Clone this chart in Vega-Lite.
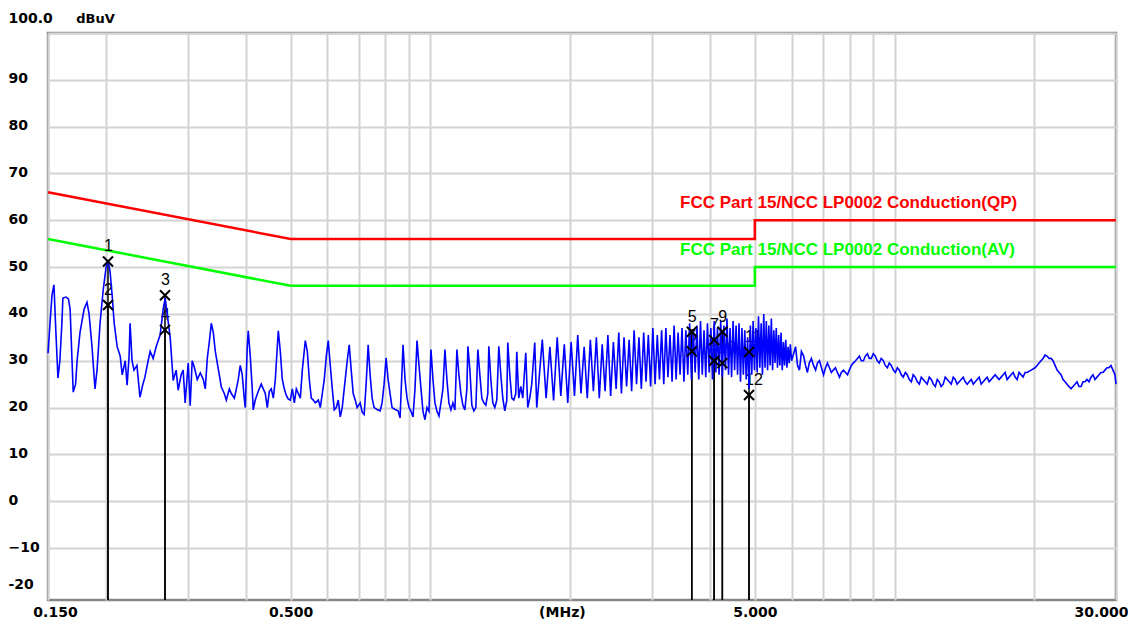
{
  "$schema": "https://vega.github.io/schema/vega-lite/v6.json",
  "width": 1068,
  "height": 567,
  "autosize": {"type": "none"},
  "padding": {"left": 48, "top": 33, "right": 12, "bottom": 28},
  "background": "white",
  "config": {
    "view": {"stroke": "#868686", "strokeWidth": 2.5},
    "axis": {
      "labelFont": "DejaVu Sans",
      "labelFontWeight": "bold",
      "labelFontSize": 14,
      "labelColor": "#000000",
      "grid": true,
      "gridColor": "#d3d3d3",
      "gridWidth": 2,
      "ticks": false,
      "tickSize": 0,
      "domain": false,
      "labelOverlap": false,
      "labelFlush": false,
      "labelBound": false
    }
  },
  "datasets": {
    "trace": [
      {"f":0.150,"v":31.6},{"f":0.1515,"v":38},{"f":0.153,"v":44},{"f":0.1545,"v":46.2},{"f":0.156,"v":36},{"f":0.1576,"v":26.3},{"f":0.1591,"v":30},{"f":0.1607,"v":38},{"f":0.1615,"v":43.4},{"f":0.164,"v":43.6},{"f":0.166,"v":43.2},{"f":0.1674,"v":41},{"f":0.169,"v":30},{"f":0.170,"v":23.3},{"f":0.172,"v":25},{"f":0.1733,"v":30},{"f":0.1758,"v":36},{"f":0.1794,"v":41},{"f":0.182,"v":42.5},{"f":0.1839,"v":40},{"f":0.1866,"v":33},{"f":0.1894,"v":24},{"f":0.1913,"v":28},{"f":0.1942,"v":38},{"f":0.1972,"v":45},{"f":0.2001,"v":50},{"f":0.2021,"v":51.5},{"f":0.2041,"v":49},{"f":0.2062,"v":44},{"f":0.2083,"v":38},{"f":0.2114,"v":33},{"f":0.2146,"v":31},{"f":0.2168,"v":27},{"f":0.22,"v":30},{"f":0.2221,"v":24.8},{"f":0.2243,"v":31},{"f":0.2254,"v":38},{"f":0.2276,"v":30},{"f":0.2298,"v":28},{"f":0.2332,"v":29},{"f":0.2367,"v":22.2},{"f":0.2402,"v":25},{"f":0.2426,"v":26.5},{"f":0.2465,"v":30},{"f":0.249,"v":32},{"f":0.2527,"v":30.5},{"f":0.2565,"v":33},{"f":0.2616,"v":35.5},{"f":0.2656,"v":41},{"f":0.2683,"v":43.4},{"f":0.2709,"v":40},{"f":0.275,"v":35},{"f":0.2791,"v":25.8},{"f":0.2833,"v":28},{"f":0.2861,"v":23.7},{"f":0.2904,"v":27},{"f":0.2933,"v":28},{"f":0.2962,"v":21},{"f":0.3007,"v":29.5},{"f":0.3037,"v":20.4},{"f":0.3067,"v":30},{"f":0.3098,"v":28.7},{"f":0.3145,"v":26},{"f":0.3193,"v":27.4},{"f":0.3241,"v":26},{"f":0.3273,"v":24},{"f":0.3306,"v":30.5},{"f":0.3339,"v":34},{"f":0.3372,"v":38},{"f":0.3406,"v":36},{"f":0.344,"v":32},{"f":0.3474,"v":29.5},{"f":0.3509,"v":27},{"f":0.3544,"v":24.4},{"f":0.3597,"v":23},{"f":0.3633,"v":21.6},{"f":0.3688,"v":24},{"f":0.3725,"v":23},{"f":0.3781,"v":22},{"f":0.3819,"v":24},{"f":0.3855,"v":26},{"f":0.3893,"v":29},{"f":0.3932,"v":27},{"f":0.3971,"v":22},{"f":0.3991,"v":20},{"f":0.4031,"v":33},{"f":0.4051,"v":36.4},{"f":0.4091,"v":31},{"f":0.4132,"v":24},{"f":0.4152,"v":19.5},{"f":0.4194,"v":21.6},{"f":0.4257,"v":23.5},{"f":0.4321,"v":25},{"f":0.4364,"v":24},{"f":0.4408,"v":23},{"f":0.4452,"v":20},{"f":0.4496,"v":23.4},{"f":0.4541,"v":24},{"f":0.4587,"v":22},{"f":0.4633,"v":26},{"f":0.4679,"v":33},{"f":0.4702,"v":36.4},{"f":0.4749,"v":32},{"f":0.4796,"v":26},{"f":0.4844,"v":24},{"f":0.4893,"v":22.6},{"f":0.4942,"v":21.8},{"f":0.4991,"v":21.6},{"f":0.5041,"v":24},{"f":0.5091,"v":21},{"f":0.5142,"v":24},{"f":0.5193,"v":23},{"f":0.5245,"v":22},{"f":0.5297,"v":28},{"f":0.5376,"v":34.3},{"f":0.543,"v":32},{"f":0.5484,"v":26},{"f":0.5538,"v":22},{"f":0.5593,"v":21.6},{"f":0.5649,"v":21},{"f":0.5734,"v":21.6},{"f":0.5791,"v":20},{"f":0.5849,"v":23},{"f":0.5907,"v":26},{"f":0.5966,"v":31},{"f":0.6025,"v":34.3},{"f":0.6085,"v":29},{"f":0.6146,"v":24},{"f":0.6207,"v":19.5},{"f":0.6269,"v":20},{"f":0.6331,"v":21.6},{"f":0.6394,"v":18},{"f":0.6457,"v":20},{"f":0.6521,"v":24},{"f":0.6619,"v":30},{"f":0.6685,"v":33.4},{"f":0.6751,"v":28},{"f":0.6818,"v":23},{"f":0.6886,"v":21.6},{"f":0.6954,"v":20},{"f":0.7058,"v":21},{"f":0.7128,"v":19},{"f":0.7199,"v":18.5},{"f":0.727,"v":25},{"f":0.7343,"v":33.4},{"f":0.7415,"v":27},{"f":0.7489,"v":22},{"f":0.7564,"v":20},{"f":0.7677,"v":19.6},{"f":0.7792,"v":19.3},{"f":0.7869,"v":21},{"f":0.7947,"v":25},{"f":0.8026,"v":30.6},{"f":0.8106,"v":26},{"f":0.8186,"v":23},{"f":0.8268,"v":20},{"f":0.8392,"v":19.6},{"f":0.8517,"v":19.3},{"f":0.8602,"v":17.8},{"f":0.8687,"v":28},{"f":0.873,"v":33.4},{"f":0.8817,"v":26},{"f":0.8905,"v":22},{"f":0.8993,"v":20},{"f":0.9083,"v":19.2},{"f":0.9173,"v":18},{"f":0.9264,"v":24},{"f":0.9357,"v":34.3},{"f":0.945,"v":29},{"f":0.9544,"v":24},{"f":0.9638,"v":19.2},{"f":0.9734,"v":17.4},{"f":0.9831,"v":20},{"f":0.9929,"v":19.2},{"f":1.0028,"v":32.4},{"f":1.0127,"v":26},{"f":1.0228,"v":21},{"f":1.033,"v":19.2},{"f":1.0433,"v":18.2},{"f":1.0536,"v":21},{"f":1.0641,"v":24},{"f":1.0747,"v":32.4},{"f":1.0854,"v":26},{"f":1.0962,"v":21},{"f":1.1071,"v":19.5},{"f":1.1181,"v":21},{"f":1.1292,"v":19.5},{"f":1.1405,"v":32.4},{"f":1.1518,"v":27},{"f":1.1633,"v":23},{"f":1.1748,"v":20.5},{"f":1.1865,"v":19.5},{"f":1.1984,"v":24},{"f":1.2043,"v":33.1},{"f":1.2163,"v":28},{"f":1.2284,"v":20.5},{"f":1.2406,"v":19.3},{"f":1.2529,"v":20},{"f":1.2654,"v":32.4},{"f":1.278,"v":27},{"f":1.2907,"v":22},{"f":1.3035,"v":21},{"f":1.3165,"v":20.5},{"f":1.3296,"v":23},{"f":1.3362,"v":33.1},{"f":1.3495,"v":26},{"f":1.3629,"v":21},{"f":1.3765,"v":20},{"f":1.3902,"v":21.6},{"f":1.404,"v":33.1},{"f":1.418,"v":27},{"f":1.4321,"v":22},{"f":1.4463,"v":19.3},{"f":1.4607,"v":21.6},{"f":1.468,"v":33.9},{"f":1.4826,"v":27},{"f":1.4973,"v":22},{"f":1.5122,"v":21.6},{"f":1.5273,"v":23},{"f":1.5349,"v":31.9},{"f":1.5501,"v":22},{"f":1.5656,"v":24.5},{"f":1.5811,"v":22},{"f":1.6049,"v":31.7},{"f":1.6208,"v":20},{"f":1.6369,"v":22},{"f":1.6532,"v":25},{"f":1.678,"v":33.9},{"f":1.6947,"v":20},
      {"f":1.742,"v":34.5},{"f":1.7755,"v":22},{"f":1.809,"v":33},{"f":1.8425,"v":21.5},{"f":1.876,"v":35},{"f":1.9095,"v":22.5},{"f":1.943,"v":33.5},{"f":1.9765,"v":21},{"f":2.010,"v":34},{"f":2.0435,"v":22.5},{"f":2.077,"v":35.5},{"f":2.1105,"v":23},{"f":2.144,"v":33},{"f":2.1775,"v":22},{"f":2.211,"v":34.5},{"f":2.2445,"v":23.5},{"f":2.278,"v":35},{"f":2.3115,"v":22},{"f":2.345,"v":33.5},{"f":2.3785,"v":23.5},{"f":2.412,"v":35.5},{"f":2.4455,"v":22.5},{"f":2.479,"v":34},{"f":2.5125,"v":24},{"f":2.546,"v":36},{"f":2.5795,"v":23},{"f":2.613,"v":35},{"f":2.6465,"v":24.5},{"f":2.680,"v":34.5},{"f":2.7135,"v":23.5},{"f":2.747,"v":36.5},{"f":2.7805,"v":25},{"f":2.814,"v":35},{"f":2.8475,"v":24},{"f":2.881,"v":36},{"f":2.9145,"v":25.5},{"f":2.948,"v":35.5},{"f":2.9815,"v":24.5},{"f":3.015,"v":37},{"f":3.0485,"v":25},{"f":3.082,"v":35.5},{"f":3.1155,"v":26},{"f":3.149,"v":36.5},{"f":3.1825,"v":25},{"f":3.216,"v":37},{"f":3.2495,"v":26.5},{"f":3.283,"v":35.5},{"f":3.3165,"v":25.5},{"f":3.350,"v":37.5},{"f":3.3835,"v":26},{"f":3.417,"v":36},{"f":3.4505,"v":27},{"f":3.484,"v":37},{"f":3.5175,"v":25.5},{"f":3.551,"v":36.5},{"f":3.5845,"v":27},{"f":3.618,"v":38},{"f":3.6515,"v":26},{"f":3.685,"v":36.5},{"f":3.7185,"v":27.5},{"f":3.752,"v":37.5},{"f":3.7855,"v":26},{"f":3.819,"v":38.5},{"f":3.8525,"v":27},{"f":3.886,"v":36.5},{"f":3.9195,"v":26.5},{"f":3.953,"v":38},{"f":3.9865,"v":27.5},{"f":4.020,"v":37},{"f":4.0535,"v":26},{"f":4.087,"v":38.5},{"f":4.1205,"v":27.5},{"f":4.154,"v":37},{"f":4.1875,"v":27},{"f":4.221,"v":38.5},{"f":4.2545,"v":26.5},{"f":4.288,"v":37.5},{"f":4.3215,"v":28},{"f":4.355,"v":39},{"f":4.3885,"v":27},{"f":4.422,"v":37},{"f":4.4555,"v":26.5},{"f":4.489,"v":38.5},{"f":4.5225,"v":28},{"f":4.556,"v":37.5},{"f":4.5895,"v":27},{"f":4.623,"v":38},{"f":4.6565,"v":25.5},{"f":4.690,"v":37},{"f":4.7235,"v":27},{"f":4.757,"v":36.5},{"f":4.7905,"v":26},{"f":4.824,"v":35},{"f":4.8575,"v":24},{"f":4.891,"v":37.5},{"f":4.9245,"v":27},{"f":4.958,"v":38.5},{"f":4.9915,"v":28},{"f":5.025,"v":37},{"f":5.0585,"v":27.5},{"f":5.092,"v":39.5},{"f":5.1255,"v":28.5},{"f":5.159,"v":38},{"f":5.1925,"v":27},{"f":5.226,"v":40},{"f":5.2595,"v":28.5},{"f":5.293,"v":38.5},{"f":5.3265,"v":28},{"f":5.360,"v":37.5},{"f":5.3935,"v":29},{"f":5.427,"v":39},{"f":5.4605,"v":28},{"f":5.494,"v":36.5},{"f":5.5275,"v":29.5},{"f":5.561,"v":37},{"f":5.5945,"v":28.5},{"f":5.628,"v":35.5},{"f":5.6615,"v":29},{"f":5.695,"v":36},{"f":5.7285,"v":28},{"f":5.762,"v":34},{"f":5.7955,"v":29},{"f":5.829,"v":34.5},{"f":5.8625,"v":28.5},{"f":5.896,"v":33},{"f":5.9295,"v":29.5},{"f":5.963,"v":33.5},
      {"f":6.0,"v":30},{"f":6.12,"v":33},{"f":6.24,"v":28},{"f":6.37,"v":31},{"f":6.49,"v":27.5},{"f":6.62,"v":30.5},{"f":6.76,"v":28},{"f":6.89,"v":30},{"f":7.03,"v":27},{"f":7.17,"v":29.5},{"f":7.31,"v":27.5},{"f":7.46,"v":28.5},{"f":7.61,"v":26.5},{"f":7.76,"v":28},{"f":7.92,"v":27},{"f":8.07,"v":29},{"f":8.24,"v":30},{"f":8.40,"v":31},{"f":8.57,"v":30},{"f":8.74,"v":31.5},{"f":8.91,"v":30.5},{"f":9.09,"v":31},{"f":9.27,"v":29.5},{"f":9.46,"v":30},{"f":9.65,"v":28.5},{"f":9.84,"v":29},{"f":10.04,"v":27.5},{"f":10.24,"v":28},{"f":10.44,"v":26.5},{"f":10.65,"v":27},{"f":10.87,"v":25.5},{"f":11.08,"v":26.5},{"f":11.31,"v":25},{"f":11.53,"v":26},{"f":11.76,"v":25},{"f":12.0,"v":26},{"f":12.24,"v":24.5},{"f":12.48,"v":25.5},{"f":12.73,"v":25},{"f":12.99,"v":26},{"f":13.25,"v":25},{"f":13.51,"v":26},{"f":13.78,"v":25.5},{"f":14.06,"v":26.5},{"f":14.34,"v":25},{"f":14.63,"v":26},{"f":14.92,"v":25.5},{"f":15.22,"v":26.5},{"f":15.52,"v":25.5},{"f":15.83,"v":26.5},{"f":16.15,"v":26},{"f":16.47,"v":27},{"f":16.8,"v":26},{"f":17.14,"v":27},{"f":17.48,"v":26},{"f":17.83,"v":27},{"f":18.19,"v":26.5},{"f":18.55,"v":27.5},{"f":18.92,"v":26.5},{"f":19.3,"v":27.5},{"f":19.69,"v":28},{"f":20.08,"v":28.5},{"f":20.48,"v":29.5},{"f":20.89,"v":30.5},{"f":21.31,"v":31},{"f":21.74,"v":30.5},{"f":22.17,"v":29},{"f":22.62,"v":27.5},{"f":23.07,"v":26},{"f":23.53,"v":25},{"f":24.0,"v":24},{"f":24.48,"v":25},{"f":24.97,"v":24.5},{"f":25.47,"v":25.5},{"f":25.98,"v":26},{"f":26.5,"v":26.5},{"f":27.03,"v":26},{"f":27.57,"v":27},{"f":28.12,"v":27.5},{"f":28.69,"v":28.5},{"f":29.26,"v":29},{"f":29.85,"v":27},{"f":30.0,"v":25},
      {"f":6.06,"v":31.5},{"f":6.18,"v":29},{"f":6.3,"v":32},{"f":6.43,"v":29},{"f":6.55,"v":29.5},{"f":6.69,"v":29},{"f":6.82,"v":29.5},{"f":6.96,"v":28.5},{"f":7.1,"v":28.5},{"f":7.24,"v":28.5},{"f":7.38,"v":28},{"f":7.53,"v":27.5},{"f":7.68,"v":27.5},{"f":7.84,"v":27.5},{"f":7.99,"v":28},{"f":8.15,"v":29.5},{"f":8.32,"v":30.5},{"f":8.48,"v":30},{"f":8.65,"v":31},{"f":8.82,"v":30.5},{"f":9.0,"v":31.5},{"f":9.18,"v":30},{"f":9.36,"v":30.5},{"f":9.55,"v":29},{"f":9.74,"v":29.5},{"f":9.94,"v":28},
      {"f":10.14,"v":28.5},{"f":10.34,"v":27},{"f":10.55,"v":27.5},{"f":10.76,"v":26},{"f":10.97,"v":27},{"f":11.2,"v":25.5},{"f":11.42,"v":26.5},{"f":11.64,"v":25.5},{"f":11.88,"v":26.5},{"f":12.12,"v":25},{"f":12.36,"v":26},{"f":12.6,"v":24.5},{"f":12.86,"v":26.5},{"f":13.12,"v":25.5},{"f":13.38,"v":26.5},{"f":13.64,"v":25},{"f":13.92,"v":26},{"f":14.2,"v":25.5},{"f":14.48,"v":25.5},{"f":14.78,"v":25},{"f":15.07,"v":26},{"f":15.37,"v":25},{"f":15.67,"v":26},{"f":15.99,"v":25.5},{"f":16.31,"v":26.5},{"f":16.63,"v":26.5},{"f":16.97,"v":26.5},{"f":17.31,"v":27.5},{"f":17.65,"v":26.5},{"f":18.01,"v":27.5},{"f":18.37,"v":26},{"f":18.73,"v":27},{"f":19.11,"v":27.5},
      {"f":20.28,"v":29},{"f":20.68,"v":30},{"f":21.1,"v":31.2},{"f":21.52,"v":30.5},{"f":21.95,"v":30},{"f":22.4,"v":28},{"f":22.84,"v":27},{"f":23.3,"v":25.5},{"f":23.76,"v":24.5},{"f":24.24,"v":24.5},{"f":24.72,"v":25.5},{"f":25.22,"v":24.5},{"f":25.72,"v":25.5},{"f":26.24,"v":25.5},{"f":26.76,"v":27},{"f":27.3,"v":26.5},{"f":27.84,"v":27.5},{"f":28.4,"v":28},{"f":28.97,"v":28.5},{"f":29.55,"v":28}
    ],
    "limits": [
      {"f":0.15,"v":66,"lim":"QP","i":0},{"f":0.5,"v":56,"lim":"QP","i":1},{"f":5,"v":56,"lim":"QP","i":2},{"f":5,"v":60,"lim":"QP","i":3},{"f":30,"v":60,"lim":"QP","i":4},
      {"f":0.15,"v":56,"lim":"AV","i":0},{"f":0.5,"v":46,"lim":"AV","i":1},{"f":5,"v":46,"lim":"AV","i":2},{"f":5,"v":50,"lim":"AV","i":3},{"f":30,"v":50,"lim":"AV","i":4}
    ],
    "limitLabels": [
      {"f":3.45,"v":63.7,"lim":"QP","t":"FCC Part 15/NCC LP0002 Conduction(QP)"},
      {"f":3.45,"v":53.6,"lim":"AV","t":"FCC Part 15/NCC LP0002 Conduction(AV)"}
    ],
    "markers": [
      {"n":"1","f":0.202,"v":51.2},{"n":"2","f":0.202,"v":41.9},
      {"n":"3","f":0.268,"v":44.0},{"n":"4","f":0.268,"v":36.6},
      {"n":"5","f":3.657,"v":36.2},{"n":"6","f":3.657,"v":32.0},
      {"n":"7","f":4.085,"v":34.4},{"n":"8","f":4.085,"v":30.0},
      {"n":"9","f":4.256,"v":36.2},{"n":"10","f":4.256,"v":29.5},
      {"n":"11","f":4.858,"v":31.9},{"n":"12","f":4.858,"v":22.7}
    ]
  },
  "encoding": {
    "x": {
      "field": "f",
      "type": "quantitative",
      "scale": {"type": "log", "domain": [0.15, 30], "nice": false},
      "axis": {
        "title": null,
        "values": [0.15,0.2,0.3,0.4,0.5,0.6,0.7,0.8,0.9,1,1.92,2,3,4,5,6,7,8,9,10,20,30],
        "labelExpr": "datum.value==0.15?'0.150':datum.value==0.5?'0.500':datum.value==1.92?'(MHz)':datum.value==5?'5.000':datum.value==30?'30.000':''",
        "gridOpacity": {"condition": {"test": "datum.value==1.92", "value": 0}, "value": 1},
        "labelOffset": {"condition": [{"test": "datum.value==0.15", "value": 7}, {"test": "datum.value==30", "value": -15}], "value": 0},
        "labelPadding": 5
      }
    },
    "y": {
      "field": "v",
      "type": "quantitative",
      "scale": {"domain": [-21.1, 100], "nice": false, "zero": false},
      "axis": {
        "values": [-18,-10,0,10,20,30,40,50,60,70,80,90,100],
        "labelExpr": "datum.value==100?'100.0':datum.value==-18?'-20':datum.label",
        "gridOpacity": {"condition": {"test": "datum.value<-15", "value": 0}, "value": 1},
        "labelOffset": {"condition": {"test": "datum.value==100", "value": -15}, "value": -1},
        "labelAlign": "left",
        "labelBaseline": "middle",
        "labelPadding": 40,
        "title": "dBuV",
        "titleAngle": 0,
        "titleX": 47,
        "titleY": -15,
        "titleAlign": "center",
        "titleBaseline": "middle",
        "titleFont": "DejaVu Sans",
        "titleFontWeight": "bold",
        "titleFontSize": 13,
        "titleColor": "#000000"
      }
    }
  },
  "layer": [
    {
      "data": {"name": "limits"},
      "mark": {"type": "line", "strokeWidth": 2.5, "interpolate": "linear"},
      "encoding": {
        "color": {"field": "lim", "type": "nominal", "scale": {"domain": ["QP", "AV"], "range": ["#ff0000", "#00ff00"]}, "legend": null},
        "order": {"field": "i", "type": "quantitative"}
      }
    },
    {
      "data": {"name": "markers"},
      "mark": {"type": "rule", "color": "#000000", "strokeWidth": 1.5},
      "encoding": {"y2": {"datum": -21.1}}
    },
    {
      "data": {"name": "markers"},
      "mark": {"type": "text", "font": "Liberation Sans", "fontSize": 16, "align": "left", "baseline": "middle", "dx": -4, "dy": -15, "color": "#000000"},
      "encoding": {"text": {"field": "n"}}
    },
    {
      "data": {"name": "trace"},
      "mark": {"type": "line", "color": "#0000ff", "strokeWidth": 1.6}
    },
    {
      "data": {"name": "markers"},
      "mark": {"type": "point", "shape": "M-1,-1L1,1M-1,1L1,-1", "size": 100, "filled": false, "stroke": "#000000", "strokeWidth": 2, "opacity": 1}
    },
    {
      "data": {"name": "limitLabels"},
      "mark": {"type": "text", "font": "Liberation Sans", "fontWeight": "bold", "fontSize": 17, "align": "left", "baseline": "middle"},
      "encoding": {
        "text": {"field": "t"},
        "color": {"field": "lim", "type": "nominal", "scale": {"domain": ["QP", "AV"], "range": ["#ff0000", "#00ff00"]}, "legend": null}
      }
    }
  ]
}
